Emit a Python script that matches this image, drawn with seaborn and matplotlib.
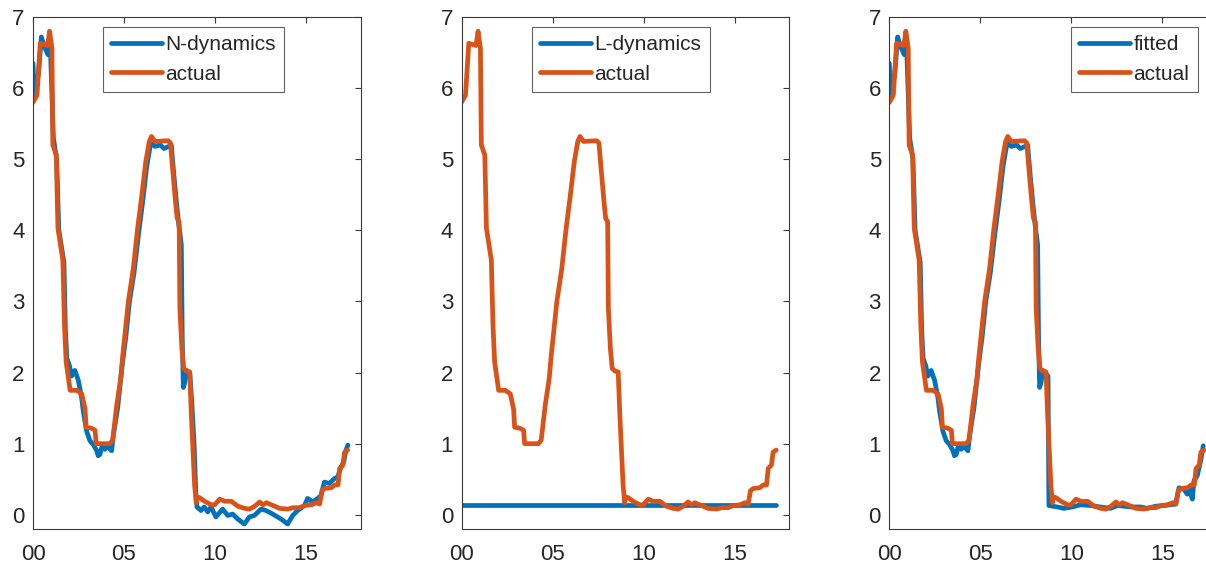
import numpy as np
import pandas as pd
import matplotlib
matplotlib.use("Agg")
import matplotlib.pyplot as plt
import seaborn as sns

# ---------------- data (years since 2000) ----------------
actual_t = [0.00, 0.22, 0.40, 0.80, 0.91, 1.04, 1.09, 1.28, 1.37, 1.64, 1.73, 1.82,
            2.04, 2.41, 2.68, 2.86, 2.92, 3.18, 3.41, 3.47, 4.23, 4.38, 4.60, 4.82,
            4.93, 5.05, 5.24, 5.51, 5.75, 5.97, 6.20, 6.39, 6.51, 6.70, 7.43, 7.55,
            7.70, 7.83, 7.92, 8.03, 8.07, 8.18, 8.28, 8.43, 8.61, 8.70, 8.88, 8.97,
            9.01, 9.16, 9.43, 9.80, 9.98, 10.26, 10.53, 10.90, 11.26, 11.63, 11.90,
            12.18, 12.45, 12.64, 12.82, 13.19, 13.55, 14.00, 14.30, 14.65, 14.93,
            15.30, 15.57, 15.75, 15.88, 16.03, 16.39, 16.58, 16.76, 16.85, 17.03,
            17.12, 17.29]
actual_v = [5.80, 5.90, 6.63, 6.60, 6.80, 6.56, 5.20, 5.06, 4.03, 3.58, 2.67, 2.15,
            1.75, 1.75, 1.70, 1.49, 1.23, 1.22, 1.19, 1.00, 1.00, 1.05, 1.54, 1.92,
            2.24, 2.53, 3.00, 3.46, 4.03, 4.47, 4.97, 5.25, 5.32, 5.25, 5.26, 5.23,
            4.78, 4.40, 4.17, 4.12, 2.90, 2.34, 2.06, 2.02, 2.01, 1.40, 0.41, 0.17,
            0.25, 0.24, 0.19, 0.14, 0.14, 0.22, 0.19, 0.19, 0.12, 0.09, 0.08,
            0.12, 0.18, 0.14, 0.17, 0.13, 0.09, 0.08, 0.10, 0.10, 0.13,
            0.14, 0.17, 0.15, 0.34, 0.37, 0.38, 0.42, 0.42, 0.65, 0.70,
            0.88, 0.91]

ndyn_t = [0.00, 0.08, 0.30, 0.46, 0.60, 0.82, 0.95, 1.12, 1.30, 1.42, 1.70, 1.78,
          1.86, 2.00, 2.12, 2.30, 2.49, 2.67, 2.76, 2.94, 3.13, 3.31, 3.50, 3.58,
          3.68, 3.78, 3.95, 4.05, 4.25, 4.32, 4.40, 4.65, 4.90, 5.10, 5.30, 5.55,
          5.80, 6.05, 6.25, 6.45, 6.55, 6.70, 7.00, 7.20, 7.45, 7.60, 7.75, 7.88,
          8.00, 8.10, 8.15, 8.20, 8.26, 8.33, 8.44, 8.62, 8.72, 8.85, 8.95, 9.01,
          9.23, 9.41, 9.60, 9.78, 10.05, 10.42, 10.70, 10.97, 11.25, 11.61, 11.89,
          12.16, 12.53, 12.80, 13.17, 13.63, 13.99, 14.27, 14.54, 14.91, 15.09,
          15.37, 15.64, 15.82, 16.01, 16.28, 16.56, 16.74, 16.92, 17.07, 17.20, 17.30]
ndyn_v = [6.35, 5.90, 6.20, 6.72, 6.60, 6.47, 6.60, 5.30, 5.00, 4.00, 3.55, 2.60,
          2.20, 2.10, 1.95, 2.03, 1.89, 1.65, 1.46, 1.18, 1.04, 0.99, 0.90, 0.83,
          0.85, 0.95, 0.92, 0.97, 0.92, 0.90, 1.09, 1.50, 2.10, 2.50, 3.00, 3.40,
          3.95, 4.45, 4.90, 5.20, 5.22, 5.18, 5.20, 5.15, 5.18, 5.20, 4.75, 4.40,
          4.10, 3.90, 3.79, 2.50, 1.79, 1.85, 2.03, 1.98, 1.60, 1.00, 0.30, 0.11,
          0.06, 0.11, 0.04, 0.11, -0.03, 0.08, -0.01, 0.01, -0.06, -0.13, -0.03,
          -0.01, 0.08, 0.06, 0.01, -0.06, -0.13, -0.01, 0.06, 0.13, 0.23,
          0.18, 0.23, 0.27, 0.46, 0.44, 0.51, 0.53, 0.67, 0.74, 0.91, 0.98]

ldyn_t = [0.00, 17.30]
ldyn_v = [0.14, 0.14]

fit_t = [0.00, 0.08, 0.30, 0.46, 0.60, 0.82, 0.95, 1.12, 1.30, 1.42, 1.70, 1.78,
         1.86, 2.00, 2.12, 2.30, 2.49, 2.67, 2.76, 2.94, 3.13, 3.31, 3.50, 3.58,
         3.68, 3.78, 3.95, 4.05, 4.25, 4.32, 4.40, 4.65, 4.90, 5.10, 5.30, 5.55,
         5.80, 6.05, 6.25, 6.45, 6.55, 6.70, 7.00, 7.20, 7.45, 7.60, 7.75, 7.88,
         8.00, 8.10, 8.15, 8.20, 8.26, 8.33, 8.44, 8.62, 8.72, 8.77, 9.23, 9.60,
         10.05, 10.51, 11.06, 11.60, 12.16, 12.53, 13.26, 13.80, 14.18, 14.63,
         15.09, 15.73, 15.92, 16.19, 16.37, 16.46, 16.65, 16.74, 16.92, 17.11, 17.25]
fit_v = [6.35, 5.90, 6.20, 6.72, 6.60, 6.47, 6.60, 5.30, 5.00, 4.00, 3.55, 2.60,
         2.20, 2.10, 1.95, 2.03, 1.89, 1.65, 1.46, 1.18, 1.04, 0.99, 0.90, 0.83,
         0.85, 0.95, 0.92, 0.97, 0.92, 0.90, 1.09, 1.50, 2.10, 2.50, 3.00, 3.40,
         3.95, 4.45, 4.90, 5.20, 5.22, 5.18, 5.20, 5.15, 5.18, 5.20, 4.75, 4.40,
         4.10, 3.90, 3.79, 2.50, 1.79, 1.85, 2.03, 1.98, 1.95, 0.13, 0.11, 0.09,
         0.11, 0.14, 0.13, 0.11, 0.09, 0.13, 0.11, 0.11, 0.09, 0.12,
         0.13, 0.15, 0.38, 0.36, 0.29, 0.38, 0.22, 0.48, 0.55, 0.76, 0.97]

model_labels = ["N-dynamics", "L-dynamics", "fitted"]
xtick_pos = [0, 5, 10, 15]
xtick_labels = ["00", "05", "10", "15"]
ytick_pos = [0, 1, 2, 3, 4, 5, 6, 7]

# ---------------- style ----------------
sns.set_style("white")
plt.rcParams["font.family"] = ["Liberation Sans", "DejaVu Sans"]

BLUE = "#0072BD"
ORANGE = "#D95319"
AXC = "#3a3a3a"
TXT = "#262626"
LW = 3.4

W, H = 1206, 565
fig = plt.figure(figsize=(W / 100, H / 100), dpi=100)

lefts_px = [33, 461.5, 889.3]
width_px = 327.6
top_px, bot_px = 17, 529
legend_boxes = [(103, 27), (532, 27), (1071, 27)]

models = [(ndyn_t, ndyn_v), (ldyn_t, ldyn_v), (fit_t, fit_v)]

for i in range(3):
    ax = fig.add_axes([lefts_px[i] / W, (H - bot_px) / H, width_px / W, (bot_px - top_px) / H])
    mt, mv = models[i]
    sns.lineplot(x=mt, y=mv, ax=ax, color=BLUE, lw=LW, label=model_labels[i],
                 sort=False, estimator=None)
    sns.lineplot(x=actual_t, y=actual_v, ax=ax, color=ORANGE, lw=LW, label="actual",
                 sort=False, estimator=None)
    ax.set_xlim(0, 18)
    ax.set_ylim(-0.2, 7)
    ax.set_xticks(xtick_pos)
    ax.set_xticklabels(xtick_labels)
    ax.set_yticks(ytick_pos)
    for s in ax.spines.values():
        s.set_visible(True)
        s.set_color(AXC)
        s.set_linewidth(0.8)
    ax.tick_params(axis="both", which="both", direction="in", length=4, width=0.8,
                   color=AXC, top=True, right=True, labelsize=16, labelcolor=TXT)
    ax.tick_params(axis="x", pad=11)
    ax.tick_params(axis="y", pad=6)
    ax.set_xlabel("")
    ax.set_ylabel("")
    lx, ly = legend_boxes[i]
    leg = ax.legend(loc="upper left", bbox_to_anchor=(lx / W, 1 - ly / H),
                    bbox_transform=fig.transFigure, fontsize=15, frameon=True,
                    fancybox=False, shadow=False, borderaxespad=0, borderpad=0.4,
                    handlelength=2.45, handletextpad=0.15, labelspacing=0.5)
    leg.get_frame().set_edgecolor(AXC)
    leg.get_frame().set_linewidth(0.8)
    for line in leg.get_lines():
        line.set_linewidth(LW)
    for t in leg.get_texts():
        t.set_color(TXT)

fig.savefig("out.png", dpi=100)
